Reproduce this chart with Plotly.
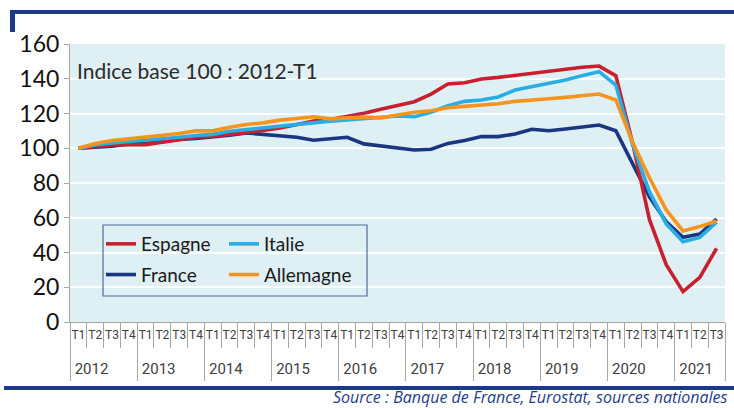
import plotly.graph_objects as go

# ---------------- data ----------------
years = ["2012", "2013", "2014", "2015", "2016", "2017", "2018", "2019", "2020", "2021"]
quarters = ["T1", "T2", "T3", "T4"]
n_points = 39

espagne = [100, 100.8, 101.9, 102.1, 102.1, 103.5, 105, 106.3, 107, 108, 108.8, 110.2,
           111.7, 113.7, 115.6, 116.5, 118.1, 120.2, 122.5, 124.5, 126.8, 131.2, 137, 137.7,
           139.9, 140.8, 142, 143.1, 144.1, 145.6, 146.6, 147.3, 141.8, 103, 59, 33,
           17.5, 25.7, 42.4]
france = [100, 100.6, 101.2, 102.5, 102.7, 103.8, 105, 105.6, 106.3, 107.5, 108.8, 107.9,
          106.9, 106.3, 104.6, 105.6, 106.3, 102.5, 101.5, 100, 99, 99.4, 102.8, 104.4,
          106.7, 106.7, 108.2, 110.9, 110.1, 111.1, 112.4, 113.4, 110.1, 91, 72, 57.7,
          48.7, 50.6, 59.3]
italie = [100, 101.9, 103, 103.7, 104.4, 105.2, 106.3, 107.3, 108, 109.8, 110.8, 111.7,
          112.7, 114, 115, 115.6, 116.3, 117, 117.8, 118.6, 118.2, 120.7, 124.5, 127,
          127.8, 129.5, 133.5, 135.5, 137, 139.3, 141.8, 144.1, 136.4, 102, 75, 56.5,
          46.2, 48.7, 57.4]
allemagne = [100, 102.7, 104.4, 105.4, 106.3, 107.1, 108.5, 110, 110, 112.1, 113.7, 114.6,
             116.2, 117.1, 118.1, 116.9, 117.3, 117.9, 117.5, 119.1, 120.7, 121.6, 123.3, 124.1,
             124.9, 125.6, 127, 128, 128.5, 129.3, 130, 131.2, 127.8, 103.5, 83, 64.5,
             52.4, 54.9, 58.1]

y_ticks = [0, 20, 40, 60, 80, 100, 120, 140, 160]
note_text = "Indice base 100 : 2012-T1"
source_text = "Source : Banque de France, Eurostat, sources nationales"

# periods (one per quarter), their index on the x scale and their labels
periods = []
quarter_labels = []
for y in years:
    for q in quarters:
        if len(periods) < n_points:
            periods.append(f"{y}-{q}")
            quarter_labels.append(q)
x_idx = list(range(len(periods)))
quarter_bounds = [i - 0.5 for i in x_idx] + [n_points - 0.5]

# year bands: start index of each year
year_starts = [periods.index(f"{y}-T1") for y in years]
year_bounds = [s - 0.5 for s in year_starts] + [n_points - 0.5]
year_label_pos = [s + 0.78 for s in year_starts]  # label sits at left of its band

# ---------------- geometry helpers (pixel -> paper) ----------------
W, H = 734, 408
L, R, T, B = 70, 725, 44, 322


def px(xp):
    return (xp - L) / (R - L)


def py(yp):
    return (B - yp) / (B - T)


BLUE = "#1b3a86"
fig = go.Figure()

series = [
    ("Espagne", espagne, "#c8202f", "legend"),
    ("France", france, "#1b3680", "legend"),
    ("Italie", italie, "#29aee4", "legend2"),
    ("Allemagne", allemagne, "#f7941e", "legend2"),
]
draw_order = [1, 0, 2, 3]
for k in draw_order:
    name, vals, col, leg = series[k]
    fig.add_trace(go.Scatter(
        x=x_idx, y=vals, name=name, mode="lines", customdata=periods,
        line=dict(color=col, width=3.6), legend=leg, legendrank=k,
        legendgroup=name, hoverinfo="skip"))

# carrier trace for the year axis
fig.add_trace(go.Scatter(x=[-0.5, n_points - 0.5], y=[None, None], xaxis="x2",
                         showlegend=False, hoverinfo="skip", mode="lines"))

AX_GRAY = "#a6a6a6"
TICK_FONT = "Roboto"
fig.update_layout(
    width=W, height=H,
    margin=dict(l=L, r=W - R, t=T, b=H - B, autoexpand=False),
    paper_bgcolor="white",
    plot_bgcolor="#dff0f4",
    showlegend=True,
    xaxis=dict(
        type="linear", range=[-0.5, n_points - 0.5],
        tickvals=x_idx, ticktext=quarter_labels, tickangle=0, ticks="",
        ticklabelstandoff=2,
        minor=dict(tickvals=quarter_bounds, ticks="outside", ticklen=25,
                   tickcolor=AX_GRAY, tickwidth=1, showgrid=False),
        showgrid=False, zeroline=False, showline=True, linecolor=AX_GRAY, linewidth=1,
        tickfont=dict(family=TICK_FONT, size=12, color="#404040"),
        automargin=False,
    ),
    xaxis2=dict(
        overlaying="x", anchor="y", side="bottom", type="linear",
        range=[-0.5, n_points - 0.5],
        tickvals=year_label_pos, ticktext=years, tickangle=0, ticks="",
        ticklabelstandoff=36,
        minor=dict(tickvals=year_bounds, ticks="outside", ticklen=58,
                   tickcolor=AX_GRAY, tickwidth=1, showgrid=False),
        showgrid=False, zeroline=False, showline=False,
        tickfont=dict(family=TICK_FONT, size=15, color="#404040"),
        automargin=False,
    ),
    yaxis=dict(
        range=[0, 160], tickvals=y_ticks,
        showgrid=True, gridcolor="white", gridwidth=2,
        zeroline=False, showline=True, linecolor=AX_GRAY, linewidth=1,
        ticks="outside", ticklen=5, tickcolor=AX_GRAY,
        tickfont=dict(family="Lato", size=23, color="#111111"),
        automargin=False,
    ),
    legend=dict(
        x=px(101), y=py(225), xanchor="left", yanchor="top",
        bgcolor="rgba(0,0,0,0)", borderwidth=0,
        font=dict(family="Lato", size=19, color="#1a1a1a"),
        tracegroupgap=3, itemwidth=30,
    ),
    legend2=dict(
        x=px(224), y=py(225), xanchor="left", yanchor="top",
        bgcolor="rgba(0,0,0,0)", borderwidth=0,
        font=dict(family="Lato", size=19, color="#1a1a1a"),
        tracegroupgap=3, itemwidth=30,
    ),
)

# legend frame, decorative bars
fig.add_shape(type="rect", xref="paper", yref="paper",
              x0=px(103), x1=px(367), y0=py(296), y1=py(225),
              line=dict(color="#4d6b9a", width=1.2), fillcolor="rgba(0,0,0,0)")
fig.add_shape(type="rect", xref="paper", yref="paper",
              x0=px(10), x1=px(734), y0=py(14), y1=py(10),
              line=dict(width=0), fillcolor=BLUE)
fig.add_shape(type="rect", xref="paper", yref="paper",
              x0=px(10), x1=px(15), y0=py(32), y1=py(10),
              line=dict(width=0), fillcolor=BLUE)
fig.add_shape(type="rect", xref="paper", yref="paper",
              x0=px(4), x1=px(734), y0=py(390), y1=py(386),
              line=dict(width=0), fillcolor=BLUE)

fig.add_annotation(text=note_text, xref="paper", yref="paper",
                   x=px(75), y=py(70), xanchor="left", yanchor="middle",
                   showarrow=False, font=dict(family="Lato", size=21, color="#2b2b2b"))
fig.add_annotation(text=source_text, xref="paper", yref="paper",
                   x=px(729), y=py(397.5), xanchor="right", yanchor="middle",
                   showarrow=False, borderpad=0,
                   font=dict(family="Open Sans", size=16, color="#1f3c88", style="italic"))

fig.write_html("out.html", config={"displayModeBar": False},
               post_script="document.body.style.margin='0';document.body.style.overflow='hidden';")
